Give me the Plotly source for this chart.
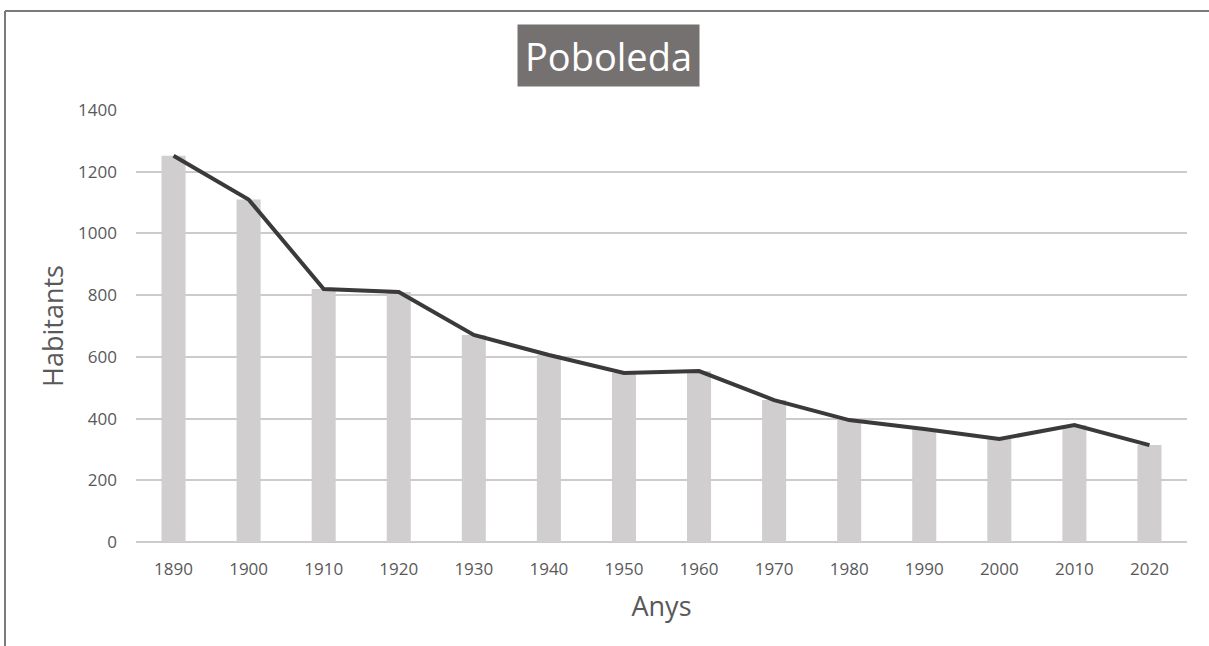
import plotly.graph_objects as go

years = ["1890", "1900", "1910", "1920", "1930", "1940", "1950",
         "1960", "1970", "1980", "1990", "2000", "2010", "2020"]
habitants = [1252, 1110, 820, 810, 671, 606, 548, 554, 460, 395, 366, 334, 379, 314]
y_ticks = [0, 200, 400, 600, 800, 1000, 1200, 1400]
title_text = "Poboleda"
x_title = "Anys"
y_title = "Habitants"

W, H = 1209, 646
L, R, T, B = 136, 22, 110, 104
pw, ph = W - L - R, H - T - B

def px_x(px):
    return (px - L) / pw

def px_y(py):
    return (H - B - py) / ph

font_family = "Open Sans, Noto Sans, sans-serif"
tick_color = "#595959"

fig = go.Figure()
fig.add_trace(go.Bar(x=years, y=habitants, width=0.32,
                     marker=dict(color="#d0cece", line=dict(width=0)),
                     showlegend=False, hoverinfo="x+y"))
fig.add_trace(go.Scatter(x=years, y=habitants, mode="lines",
                         line=dict(color="#3a3a3a", width=4),
                         showlegend=False))

fig.update_layout(
    width=W, height=H,
    margin=dict(l=L, r=R, t=T, b=B, autoexpand=False),
    paper_bgcolor="white", plot_bgcolor="white",
    font=dict(family=font_family, color=tick_color, size=17),
    xaxis=dict(type="category", range=[-0.5, len(years) - 0.5],
               showgrid=False, showline=False, zeroline=False,
               ticks="", ticklabelstandoff=15,
               tickfont=dict(size=17, color=tick_color),
               title=dict(text=x_title, font=dict(size=27, color=tick_color), standoff=18)),
    yaxis=dict(range=[0, 1400], tickvals=y_ticks,
               showgrid=True, gridcolor="#cccccc", gridwidth=2,
               zeroline=True, zerolinecolor="#cccccc", zerolinewidth=2,
               showline=False, ticks="", ticklabelstandoff=18,
               tickfont=dict(size=17, color=tick_color),
               title=dict(text=y_title, font=dict(size=27, color=tick_color), standoff=6)),
    bargap=0.68,
)

fig.add_annotation(text=title_text, xref="paper", yref="paper",
                   x=px_x(608.5), y=px_y(55.5), xanchor="center", yanchor="middle",
                   showarrow=False, bgcolor="#767171", borderpad=6,
                   width=169, height=49,
                   font=dict(size=38, color="white", family=font_family))

# chart border (left and top edges visible)
fig.add_shape(type="line", xref="paper", yref="paper",
              x0=px_x(5), x1=px_x(5), y0=px_y(11), y1=px_y(H + 5),
              line=dict(color="#7a7a7a", width=2))
fig.add_shape(type="line", xref="paper", yref="paper",
              x0=px_x(5), x1=px_x(W + 5), y0=px_y(11), y1=px_y(11),
              line=dict(color="#7a7a7a", width=2))

fig.write_html("out.html", config={"displayModeBar": False},
               post_script="document.body.style.margin='0';")
